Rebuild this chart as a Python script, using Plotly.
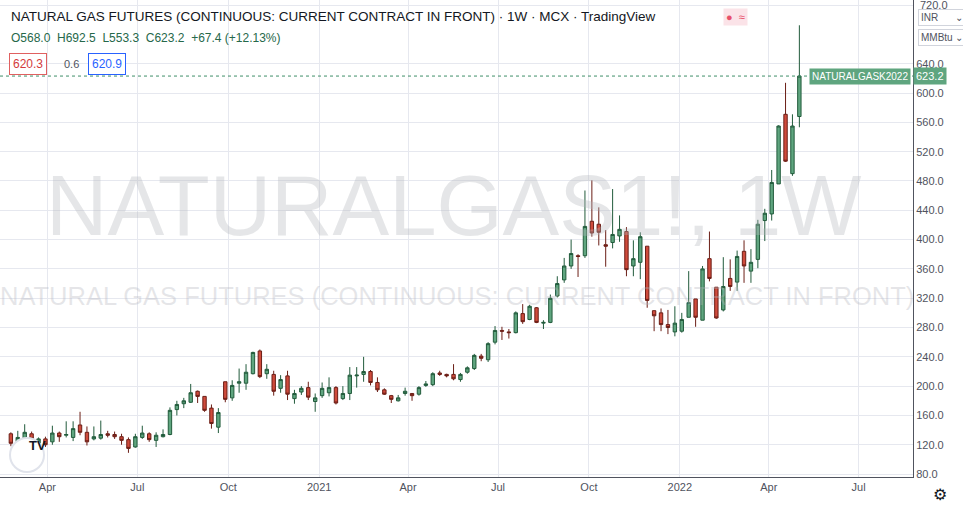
import pandas as pd
import plotly.graph_objects as go

start = "2020-02-24"
opens = [135,124,128,135,122,128,124,136,133,130,147,137,128,129,135,134,131,127,117,130,135,126,131,134,168,
         176,178,193,186,170,144,206,184,204,204,217,248,217,216,197,214,183,192,198,179,187,191,198,183,190,
         214,216,220,205,195,187,180,190,190,189,201,202,218,216,216,209,219,224,241,236,260,276,274,273,299,
         291,307,286,287,323,345,364,378,378,425,421,393,396,405,411,364,369,391,303,300,284,274,275,294,319,
         290,374,335,304,347,342,384,357,373,426,435,476,571,490,568.0]
highs = [137,139,148,138,130,131,146,138,152,152,165,145,145,153,139,138,135,130,135,146,137,137,141,171,180,
         184,203,194,186,175,170,206,208,224,230,247,250,230,221,215,221,195,200,206,190,205,212,200,200,226,
         226,240,222,212,197,188,188,198,190,200,207,219,221,217,230,218,227,244,244,260,282,281,278,302,312,
         311,308,290,325,350,375,400,380,467,481,444,413,469,433,417,399,410,391,303,306,304,309,300,357,319,
         364,411,335,376,373,385,399,387,427,442,495,556,614,571,692.5]
lows = [118,121,125,122,119,117,120,124,130,125,133,119,126,127,130,128,120,109,116,128,124,117,130,133,160,
        170,177,177,165,142,136,178,180,191,195,216,211,210,187,191,181,176,188,181,165,184,186,175,181,181,
        198,206,201,192,188,177,179,187,180,187,199,200,214,212,208,206,217,222,234,233,257,263,265,272,285,
        290,286,278,286,321,341,360,349,375,404,392,363,388,397,350,350,346,307,275,275,271,268,273,294,281,
        290,343,292,302,330,330,341,341,361,398,426,476,506,487,553.3]
closes = [122,130,137,128,128,120,136,131,134,142,137,124,131,134,133,131,126,115,131,136,127,133,134,167,175,
          180,191,186,167,149,164,182,201,206,219,246,213,223,193,209,189,190,197,185,184,197,198,177,190,215,
          215,220,205,195,189,182,184,193,187,198,203,217,216,214,210,216,225,242,238,258,276,275,273,300,288,
          309,287,287,320,340,364,381,377,418,409,410,391,407,414,359,374,404,317,296,284,280,286,291,314,294,
          360,347,293,336,336,377,364,369,421,436,478,555,507,555,623.2]

dates = pd.date_range(start, periods=len(closes), freq="7D")

tick_dates = ["2020-04-01","2020-07-01","2020-10-01","2021-01-01","2021-04-01",
              "2021-07-01","2021-10-01","2022-01-01","2022-04-01","2022-07-01"]
tick_text = ["Apr","Jul","Oct","2021","Apr","Jul","Oct","2022","Apr","Jul"]
y_ticks = [80,120,160,200,240,280,320,360,400,440,480,520,560,600,640,720]

FONT = "Liberation Sans"
fig = go.Figure(go.Candlestick(
    x=dates, open=opens, high=highs, low=lows, close=closes,
    increasing=dict(line=dict(color="#225b3c", width=1), fillcolor="#5fa57f"),
    decreasing=dict(line=dict(color="#6b1e16", width=1), fillcolor="#cf4b3c"),
    whiskerwidth=0, showlegend=False, hoverinfo="skip"))

PH = 477.0
fig.update_layout(
    width=963, height=509, margin=dict(l=0, r=50, t=0, b=32),
    paper_bgcolor="white", plot_bgcolor="white",
    font=dict(family=FONT, color="#131722", size=11),
    xaxis=dict(range=["2020-02-13", "2022-08-25"], rangeslider=dict(visible=False),
               tickvals=tick_dates, ticktext=tick_text, showgrid=True, gridcolor="#e6e8ef",
               showline=True, linecolor="#50535e", linewidth=1, ticks="", tickfont=dict(size=11, color="#50535e")),
    yaxis=dict(side="right", range=[76, 727], tickvals=y_ticks, tickformat=".1f", showgrid=True,
               gridcolor="#e6e8ef", showline=True, linecolor="#50535e", linewidth=1, ticks="",
               tickfont=dict(size=11, color="#50535e"), zeroline=False),
)

def py(p):
    return 1 - p / PH

# watermarks
fig.add_annotation(x=0.497, y=0.57, xref="paper", yref="paper", text="NATURALGAS1!, 1W", showarrow=False,
                   font=dict(size=85, color="rgba(180,182,190,0.35)", family=FONT))
fig.add_annotation(x=0.5, y=0.38, xref="paper", yref="paper",
                   text="NATURAL GAS FUTURES (CONTINUOUS: CURRENT CONTRACT IN FRONT)", showarrow=False,
                   font=dict(size=25.5, color="rgba(180,182,190,0.35)", family=FONT))

# header
fig.add_annotation(x=0.01, y=py(17), xref="paper", yref="paper", yanchor="middle", xanchor="left",
                   text="NATURAL GAS FUTURES (CONTINUOUS: CURRENT CONTRACT IN FRONT) · 1W · MCX · TradingView",
                   showarrow=False, font=dict(size=13.5, color="#131722"))
fig.add_annotation(x=0.01, y=py(38), xref="paper", yref="paper", xanchor="left", yanchor="middle",
                   text="O568.0  H692.5  L553.3  C623.2  +67.4 (+12.13%)", showarrow=False,
                   font=dict(size=12, color="#26684a"))
fig.add_annotation(x=0.01, y=py(64), xref="paper", yref="paper", xanchor="left", yanchor="middle",
                   text="620.3", showarrow=False, font=dict(size=12, color="#d33b3b"),
                   bordercolor="#e06060", borderwidth=1, borderpad=3, bgcolor="white")
fig.add_annotation(x=0.068, y=py(64), xref="paper", yref="paper", xanchor="left", yanchor="middle",
                   text="0.6", showarrow=False, font=dict(size=11, color="#50535e"))
fig.add_annotation(x=0.096, y=py(64), xref="paper", yref="paper", xanchor="left", yanchor="middle",
                   text="620.9", showarrow=False, font=dict(size=12, color="#2962ff"),
                   bordercolor="#2962ff", borderwidth=1, borderpad=3, bgcolor="white")
fig.add_annotation(x=0.806, y=py(17), xref="paper", yref="paper", xanchor="center", yanchor="middle",
                   text="●  ≈", showarrow=False, font=dict(size=11, color="#e8506a"),
                   bgcolor="#fbe3e8", borderpad=2)

# last price line & labels
last = closes[-1]
fig.add_hline(y=last, line=dict(color="#3f8f68", width=1, dash="dot"))
fig.add_annotation(x=1, y=last, xref="paper", yref="y", xanchor="left", yanchor="middle",
                   text="623.2", showarrow=False, font=dict(size=11, color="white"),
                   bgcolor="#5fa57f", borderpad=2)
fig.add_annotation(x=0.998, y=last, xref="paper", yref="y", xanchor="right", yanchor="middle",
                   text="NATURALGASK2022", showarrow=False, font=dict(size=10, color="white"),
                   bgcolor="#5fa57f", borderpad=2)
fig.add_annotation(x=1.006, y=720, xref="paper", yref="y", xanchor="left", yanchor="middle",
                   text="720.0", showarrow=False, font=dict(size=11, color="#50535e"))
fig.add_annotation(x=1.006, y=py(18), xref="paper", yref="paper", xanchor="left", yanchor="middle",
                   text="INR      ⌄", showarrow=False, font=dict(size=10, color="#50535e"),
                   bgcolor="white", bordercolor="#d1d4dc", borderwidth=1, borderpad=2)
fig.add_annotation(x=1.006, y=py(37), xref="paper", yref="paper", xanchor="left", yanchor="middle",
                   text="MMBtu ⌄", showarrow=False, font=dict(size=10, color="#50535e"),
                   bgcolor="white", bordercolor="#d1d4dc", borderwidth=1, borderpad=2)
fig.add_annotation(x=1.03, y=-0.037, xref="paper", yref="paper", xanchor="center", yanchor="middle",
                   text="⚙", showarrow=False, font=dict(size=16, color="#131722"))
# logo
fig.add_shape(type="circle", xref="paper", yref="paper", x0=10/913, x1=44/913, y0=py(472), y1=py(438),
              line=dict(color="#e0e3eb"), fillcolor="white")
fig.add_annotation(x=27/913, y=py(455), xref="paper", yref="paper", text="<b>TV</b>", showarrow=False,
                   font=dict(size=13, color="#131722"))

fig.write_html("out.html", config={"displayModeBar": False},
               post_script="document.body.style.margin='0';")
